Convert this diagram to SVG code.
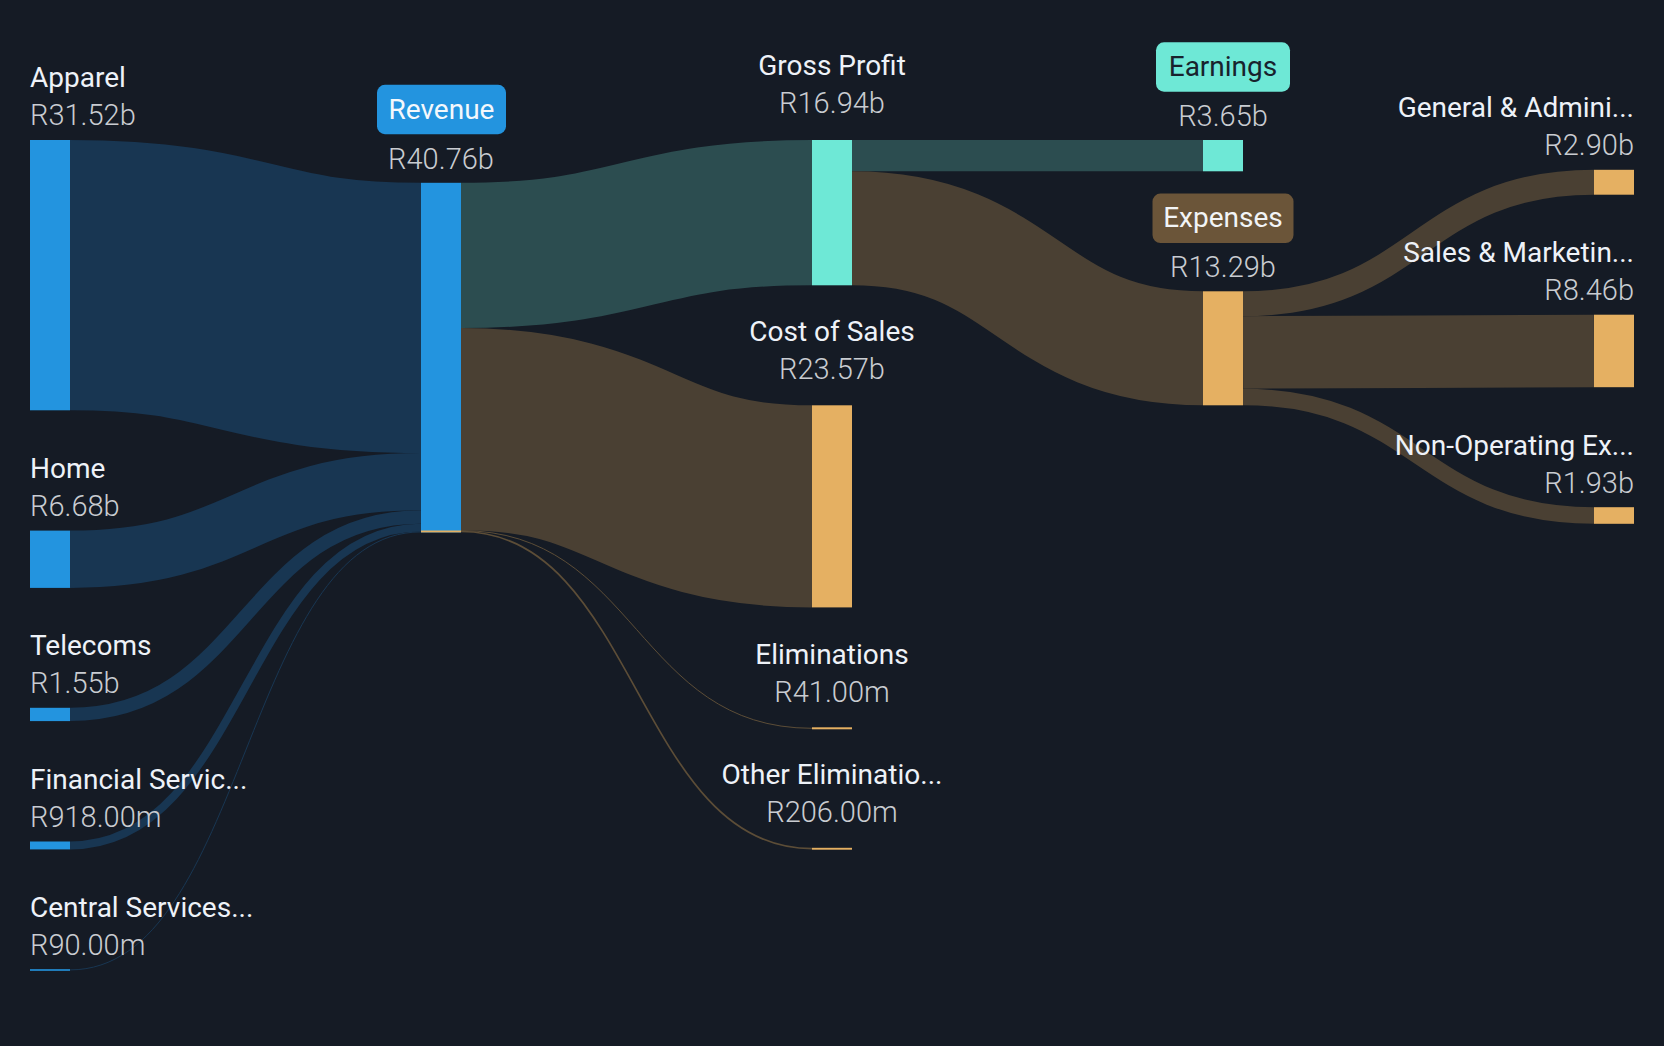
<svg xmlns="http://www.w3.org/2000/svg" width="1664" height="1046" viewBox="0 0 1664 1046">
<style>
.bg{fill:#151b25}
.lb{fill:none;stroke:#183652}
.lt{fill:none;stroke:#2c4d50}
.lo{fill:none;stroke:#4a4033}
.lthin{fill:none;stroke:#5c4d37}
.nb{fill:#2394df}
.nt{fill:#6ee8d6}
.no{fill:#e5b062}
text{font-family:Roboto,"Liberation Sans",sans-serif;font-size:28px}
.name{fill:#eef2f8}
.val{fill:#c9ccd1;font-size:29px;font-weight:300}
.mid{text-anchor:middle}
.end{text-anchor:end}
</style>
<rect class="bg" x="0" y="0" width="1664" height="1046"/>
<g id="links">
<path class="lb" stroke-width="270.28" d="M70,275.14 C245.5,275.14 245.5,317.94 421,317.94"/>
<path class="lb" stroke-width="57.28" d="M70,559.24 C245.5,559.24 245.5,481.72 421,481.72"/>
<path class="lb" stroke-width="13.29" d="M70,714.45 C245.5,714.45 245.5,517.01 421,517.01"/>
<path class="lb" stroke-width="7.87" d="M70,845.44 C245.5,845.44 245.5,527.59 421,527.59"/>
<path class="lb" stroke-width="1" d="M70,969.9 C245.5,969.9 245.5,531.9 421,531.9"/>
<path class="lt" stroke-width="145.26" d="M461,255.43 C636.5,255.43 636.5,212.63 812,212.63"/>
<path class="lo" stroke-width="202.11" d="M461,429.12 C636.5,429.12 636.5,506.36 812,506.36"/>
<path class="lthin" stroke-width="1" d="M461,530.6 C636.5,530.6 636.5,728.3 812,728.3"/>
<path class="lthin" stroke-width="1.7" d="M461,531.5 C636.5,531.5 636.5,848.7 812,848.7"/>
<path class="lt" stroke-width="31.3" d="M852,155.65 L1203,155.65"/>
<path class="lo" stroke-width="113.96" d="M852,228.28 C1027.5,228.28 1027.5,348.28 1203,348.28"/>
<path class="lo" stroke-width="24.87" d="M1243,303.73 C1418.5,303.73 1418.5,182.23 1594,182.23"/>
<path class="lo" stroke-width="72.54" d="M1243,352.44 C1418.5,352.44 1418.5,350.97 1594,350.97"/>
<path class="lo" stroke-width="16.55" d="M1243,396.99 C1418.5,396.99 1418.5,515.48 1594,515.48"/>
</g>
<g id="node-apparel">
<rect class="nb" x="30" y="140" width="40" height="270.3"/>
<text class="name" x="30" y="87.3">Apparel</text>
<text class="val" x="30" y="125.3">R31.52b</text>
</g>
<g id="node-home">
<rect class="nb" x="30" y="530.6" width="40" height="57.3"/>
<text class="name" x="30" y="477.9">Home</text>
<text class="val" x="30" y="515.9">R6.68b</text>
</g>
<g id="node-telecoms">
<rect class="nb" x="30" y="707.8" width="40" height="13.3"/>
<text class="name" x="30" y="655.1">Telecoms</text>
<text class="val" x="30" y="693.1">R1.55b</text>
</g>
<g id="node-financial">
<rect class="nb" x="30" y="841.5" width="40" height="7.9"/>
<text class="name" x="30" y="788.8">Financial Servic...</text>
<text class="val" x="30" y="826.8">R918.00m</text>
</g>
<g id="node-central">
<rect class="nb" x="30" y="969.2" width="40" height="1.6"/>
<text class="name" x="30" y="916.5">Central Services...</text>
<text class="val" x="30" y="954.5">R90.00m</text>
</g>
<g id="node-revenue">
<rect class="nb" x="421" y="182.8" width="40" height="349.6"/>
<rect class="no" x="421" y="530.5" width="40" height="1.9"/>
<rect class="nb" x="377" y="84.8" width="129" height="49.4" rx="8"/>
<text class="mid" x="441.5" y="118.5" fill="#f4f8fc">Revenue</text>
<text class="val mid" x="441" y="168.5">R40.76b</text>
</g>
<g id="node-grossprofit">
<rect class="nt" x="812" y="140" width="40" height="145.3"/>
<text class="name mid" x="832" y="75.3">Gross Profit</text>
<text class="val mid" x="832" y="113.3">R16.94b</text>
</g>
<g id="node-costofsales">
<rect class="no" x="812" y="405.3" width="40" height="202.1"/>
<text class="name mid" x="832" y="340.6">Cost of Sales</text>
<text class="val mid" x="832" y="378.6">R23.57b</text>
</g>
<g id="node-eliminations">
<rect class="no" x="812" y="727.3" width="40" height="2"/>
<text class="name mid" x="832" y="663.5">Eliminations</text>
<text class="val mid" x="832" y="701.7">R41.00m</text>
</g>
<g id="node-othereliminations">
<rect class="no" x="812" y="847.8" width="40" height="1.9"/>
<text class="name mid" x="832" y="783.5">Other Eliminatio...</text>
<text class="val mid" x="832" y="821.7">R206.00m</text>
</g>
<g id="node-earnings">
<rect class="nt" x="1203" y="140" width="40" height="31.3"/>
<rect class="nt" x="1156" y="42.3" width="134" height="49.4" rx="8"/>
<text class="mid" x="1223" y="75.7" fill="#18222d">Earnings</text>
<text class="val mid" x="1223" y="125.7">R3.65b</text>
</g>
<g id="node-expenses">
<rect class="no" x="1203" y="291.3" width="40" height="114"/>
<rect x="1152.5" y="193.6" width="141" height="49.4" rx="8" fill="#6b5539"/>
<text class="mid" x="1223" y="227" fill="#f2f4f6">Expenses</text>
<text class="val mid" x="1223" y="277">R13.29b</text>
</g>
<g id="node-ga">
<rect class="no" x="1594" y="169.8" width="40" height="24.9"/>
<text class="name end" x="1634" y="117.1">General &amp; Admini...</text>
<text class="val end" x="1634" y="155.1">R2.90b</text>
</g>
<g id="node-sm">
<rect class="no" x="1594" y="314.7" width="40" height="72.5"/>
<text class="name end" x="1634" y="262">Sales &amp; Marketin...</text>
<text class="val end" x="1634" y="300">R8.46b</text>
</g>
<g id="node-nonop">
<rect class="no" x="1594" y="507.2" width="40" height="16.6"/>
<text class="name end" x="1634" y="454.5">Non-Operating Ex...</text>
<text class="val end" x="1634" y="492.5">R1.93b</text>
</g>
</svg>
